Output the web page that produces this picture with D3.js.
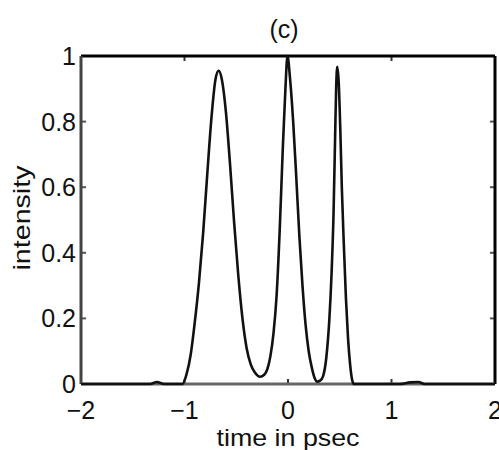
<!DOCTYPE html>
<html>
<head>
<meta charset="utf-8">
<script src="https://cdn.jsdelivr.net/npm/d3@7"></script>
<style>
body{margin:0;background:#fff;}
text{font-family:"Liberation Sans",Arial,sans-serif;fill:#111;}
</style>
</head>
<body>
<div id="chart"></div>
<script>
// pulse intensity
var timePs=[-2,-1.333,-1.266,-1.198,-1.02,-0.98,-0.94,-0.9,-0.86,-0.82,-0.78,-0.74,-0.7,-0.67,-0.64,-0.6,-0.56,-0.52,-0.48,-0.44,-0.4,-0.36,-0.32,-0.27,-0.23,-0.2,-0.17,-0.14,-0.11,-0.08,-0.05,-0.025,-0.005,0.02,0.05,0.08,0.11,0.14,0.17,0.2,0.23,0.26,0.28,0.31,0.34,0.37,0.4,0.42,0.44,0.455,0.465,0.476,0.49,0.505,0.52,0.54,0.56,0.58,0.6,0.62,0.635,1.08,1.18,1.26,1.32,2];
var intensity=[0,0,0.006,0,0,0.03,0.09,0.19,0.31,0.46,0.64,0.81,0.93,0.955,0.93,0.83,0.67,0.49,0.33,0.2,0.11,0.06,0.035,0.022,0.028,0.045,0.085,0.155,0.27,0.47,0.72,0.9,1,0.93,0.8,0.63,0.45,0.3,0.18,0.1,0.05,0.016,0.007,0.01,0.025,0.08,0.2,0.33,0.52,0.75,0.9,0.967,0.92,0.78,0.6,0.42,0.26,0.14,0.06,0.012,0,0,0.005,0.006,0,0];
var xTicks=[-2,-1,0,1,2];
var yTicks=[0,0.2,0.4,0.6,0.8,1];
var yTickLabels=["0","0.2","0.4","0.6","0.8","1"];

var W=499,H=450;
var pLeft=81,pRight=495,pTop=56,pBottom=384;

var svg=d3.select("#chart").append("svg").attr("width",W).attr("height",H);

var x=d3.scaleLinear().domain([-2,2]).range([pLeft,pRight]);
var y=d3.scaleLinear().domain([0,1]).range([pBottom,pTop]);

// inward ticks on all four sides
var ax=svg.append("g");
ax.selectAll("line.xt").data(xTicks).enter().append("line")
	.attr("x1",function(d){return x(d);}).attr("x2",function(d){return x(d);})
	.attr("y1",pBottom).attr("y2",pBottom-5).attr("stroke","#333").attr("stroke-width",2);
ax.selectAll("line.xt2").data(xTicks).enter().append("line")
	.attr("x1",function(d){return x(d);}).attr("x2",function(d){return x(d);})
	.attr("y1",pTop).attr("y2",pTop+5).attr("stroke","#333").attr("stroke-width",2);
ax.selectAll("line.yt").data(yTicks).enter().append("line")
	.attr("x1",pLeft).attr("x2",pLeft+5)
	.attr("y1",function(d){return y(d);}).attr("y2",function(d){return y(d);})
	.attr("stroke","#555").attr("stroke-width",2);
ax.selectAll("line.yt2").data(yTicks).enter().append("line")
	.attr("x1",pRight).attr("x2",pRight-5)
	.attr("y1",function(d){return y(d);}).attr("y2",function(d){return y(d);})
	.attr("stroke","#555").attr("stroke-width",2);

// frame
svg.append("line").attr("x1",pLeft).attr("x2",pRight).attr("y1",pTop).attr("y2",pTop)
	.attr("stroke","#000").attr("stroke-width",3);
svg.append("line").attr("x1",pRight).attr("x2",pRight).attr("y1",pTop).attr("y2",pBottom)
	.attr("stroke","#000").attr("stroke-width",3);
svg.append("line").attr("x1",pLeft).attr("x2",pLeft).attr("y1",pTop).attr("y2",pBottom)
	.attr("stroke","#444").attr("stroke-width",3);
svg.append("line").attr("x1",pLeft).attr("x2",pRight).attr("y1",pBottom).attr("y2",pBottom)
	.attr("stroke","#666").attr("stroke-width",3);

// curve
var pts=timePs.map(function(t,i){return [t,intensity[i]];});
var line=d3.line().x(function(d){return x(d[0]);}).y(function(d){return y(d[1]);})
	.curve(d3.curveMonotoneX);
svg.append("path").datum(pts).attr("d",line)
	.attr("fill","none").attr("stroke","#111").attr("stroke-width",2.6);

// tick labels
svg.selectAll("text.xl").data(xTicks).enter().append("text")
	.attr("x",function(d){return x(d);}).attr("y",419)
	.attr("text-anchor","middle").attr("font-size",25)
	.text(function(d){return d<0?"\u2212"+(-d):d;});
svg.selectAll("text.yl").data(yTicks).enter().append("text")
	.attr("x",76).attr("y",function(d){return y(d)+9;})
	.attr("text-anchor","end").attr("font-size",25)
	.text(function(d,i){return yTickLabels[i];});

// titles
svg.append("text").attr("x",284).attr("y",38).attr("text-anchor","middle")
	.attr("font-size",25).text("(c)");
svg.append("text").attr("x",288).attr("y",446).attr("text-anchor","middle")
	.attr("font-size",24).attr("textLength",143).attr("lengthAdjust","spacingAndGlyphs")
	.text("time in psec");
svg.append("text").attr("transform","translate(30,218) rotate(-90)")
	.attr("text-anchor","middle").attr("font-size",24)
	.attr("textLength",105).attr("lengthAdjust","spacingAndGlyphs")
	.text("intensity");
</script>
</body>
</html>
